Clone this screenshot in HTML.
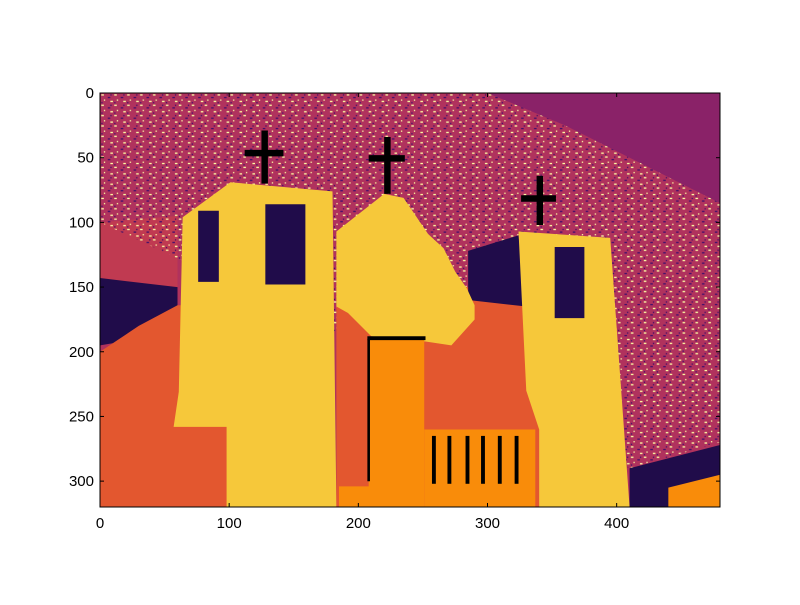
<!DOCTYPE html>
<html><head><meta charset="utf-8"><style>
body{margin:0;background:#fff;width:800px;height:600px;overflow:hidden}
text{font-family:"Liberation Sans",sans-serif;font-size:15px;fill:#000}
</style></head><body>
<svg width="800" height="600">
<defs>
<pattern id="spk" width="10" height="8" patternUnits="userSpaceOnUse">
<rect x="1" y="1" width="2" height="1" fill="#fcfea4"/>
<rect x="6" y="3" width="2" height="1" fill="#420f6a"/>
<rect x="3" y="5" width="1" height="1" fill="#fcfea4"/>
<rect x="8" y="6" width="2" height="1" fill="#fcfea4"/>
<rect x="8" y="1" width="1" height="1" fill="#420f6a"/>
<rect x="1" y="7" width="1" height="1" fill="#420f6a"/>
</pattern>
<clipPath id="clip"><rect x="0" y="0" width="480" height="320"/></clipPath>
</defs>
<g id="img" transform="translate(100,93) scale(1.2917,1.294)" clip-path="url(#clip)"></g>
<rect x="100" y="93" width="620" height="414" fill="none" stroke="#000" stroke-width="1"/>
<g id="axes"></g>
</svg>
<script>
const xTicks=[0,100,200,300,400];
const yTicks=[0,50,100,150,200,250,300];
const regions=[
 ["sky",[[0,0],[480,0],[480,320],[0,320]],"#b0325d"],
 ["sky-top-right",[[300,0],[480,0],[480,85],[420,55],[360,25]],"#8a2268"],
 ["sky-lower-left",[[0,100],[60,95],[60,190],[0,190]],"#c03a51"],
 ["sky-speckle",[[0,0],[300,0],[360,25],[480,85],[480,270],[410,290],[0,100]],"url(#spk)"],
 ["dark-band-left",[[0,143],[60,150],[60,185],[0,195]],"#200c4a"],
 ["ground-left",[[0,200],[30,180],[60,164],[100,164],[100,320],[0,320]],"#e3572f"],
 ["dark-bottom-right",[[410,290],[480,272],[480,320],[410,320]],"#200c4a"],
 ["ground-right",[[440,305],[480,295],[480,320],[440,320]],"#f98c0a"],
 ["center-wall",[[183,150],[345,150],[345,320],[183,320]],"#e3572f"],
 ["dark-gap",[[285,122],[324,110],[330,165],[285,160]],"#200c4a"],
 ["left-tower",[[64,96],[101,69],[180,76],[183,320],[98,320],[98,258],[57,258],[61,231]],"#f6c83a"],
 ["center-wall-yellow",[[183,107],[220,78],[235,81],[254,109],[266,120],[275,138],[284,151],[290,164],[290,175],[272,195],[252,192],[210,188],[192,170],[183,165]],"#f6c83a"],
 ["right-tower",[[324,107],[395,112],[410,320],[340,320],[340,260],[330,230]],"#f6c83a"],
 ["door",[[208,190],[251,190],[251,320],[185,320],[185,304],[208,304]],"#f98c0a"],
 ["porch",[[251,260],[337,260],[337,320],[251,320]],"#f98c0a"],
 ["win-l1",[[76,91],[92,91],[92,146],[76,146]],"#200c4a"],
 ["win-l2",[[128,86],[159,86],[159,148],[128,148]],"#200c4a"],
 ["win-r1",[[352,119],[375,119],[375,174],[352,174]],"#200c4a"],
 ["cross1-v",[[125,29],[130,29],[130,70],[125,70]],"#000"],
 ["cross1-h",[[112,44],[142,44],[142,49],[112,49]],"#000"],
 ["cross2-v",[[220,34],[225,34],[225,78],[220,78]],"#000"],
 ["cross2-h",[[208,48],[236,48],[236,53],[208,53]],"#000"],
 ["cross3-v",[[338,64],[343,64],[343,102],[338,102]],"#000"],
 ["cross3-h",[[326,79],[353,79],[353,84],[326,84]],"#000"],
 ["door-edge",[[207,190],[209,190],[209,300],[207,300]],"#000"],
 ["door-top",[[207,188],[252,188],[252,191],[207,191]],"#000"]
];
const barsX=[257,269,283,295,308,321];
const g=document.getElementById('img');
const ns='http://www.w3.org/2000/svg';
regions.forEach(r=>{
 const p=document.createElementNS(ns,'polygon');
 p.setAttribute('points',r[1].map(q=>q.join(',')).join(' '));
 p.setAttribute('fill',r[2]);
 
 
 g.appendChild(p);
});
barsX.forEach(x=>{
 const b=document.createElementNS(ns,'rect');
 b.setAttribute('x',x);b.setAttribute('y',265);b.setAttribute('width',3);b.setAttribute('height',37);b.setAttribute('fill','#000');
 
 
 g.appendChild(b);
});
const ax=document.getElementById('axes');
const sx=v=>100+v*620/480, sy=v=>93+v*414/320;
xTicks.forEach(v=>{
 const x=sx(v);
 ax.insertAdjacentHTML('beforeend',`<line x1="${x}" y1="507" x2="${x}" y2="503" stroke="#000"/><line x1="${x}" y1="93" x2="${x}" y2="97" stroke="#000"/>`);
 const t=document.createElementNS(ns,'text');
 t.setAttribute('x',x);t.setAttribute('y',528);t.setAttribute('text-anchor','middle');t.textContent=v;
 
 
 ax.appendChild(t);
});
yTicks.forEach(v=>{
 const y=sy(v);
 ax.insertAdjacentHTML('beforeend',`<line x1="100" y1="${y}" x2="104" y2="${y}" stroke="#000"/><line x1="720" y1="${y}" x2="716" y2="${y}" stroke="#000"/>`);
 const t=document.createElementNS(ns,'text');
 t.setAttribute('x',94);t.setAttribute('y',y+5);t.setAttribute('text-anchor','end');t.textContent=v;
 
 
 ax.appendChild(t);
});
</script>
</body></html>
